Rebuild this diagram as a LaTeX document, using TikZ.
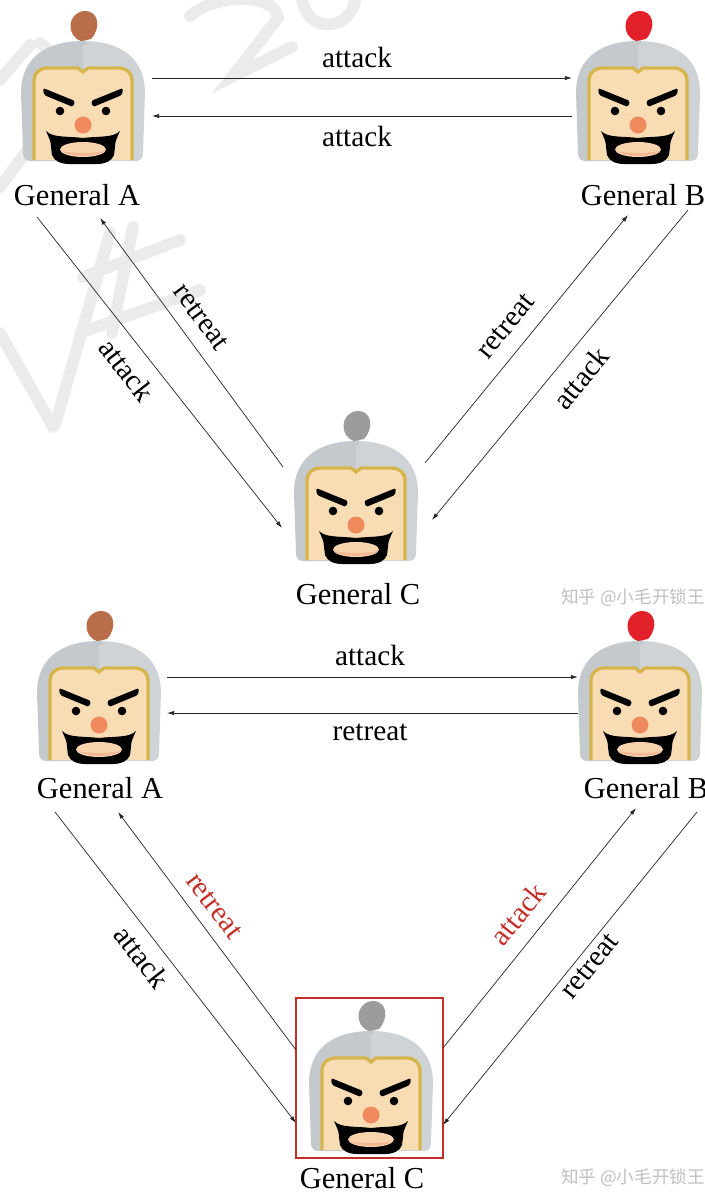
\documentclass[tikz,border=0pt]{standalone}
\usepackage{fontspec}
\setmainfont{Liberation Serif}
\newfontfamily\cjk{Noto Sans CJK SC}
\usetikzlibrary{arrows.meta}
\definecolor{helmL}{HTML}{C4C9CD}
\definecolor{helmR}{HTML}{D0D3D5}
\definecolor{skin}{HTML}{F8DDB4}
\definecolor{gold}{HTML}{D6B54C}
\definecolor{nose}{HTML}{EE8A5C}
\definecolor{mouth}{HTML}{F8D4AE}
\definecolor{lip}{HTML}{F1B896}
\definecolor{plumeA}{HTML}{B96D48}
\definecolor{plumeB}{HTML}{E1202A}
\definecolor{plumeC}{HTML}{9C9C9C}
\definecolor{redtxt}{HTML}{C42E26}
\definecolor{wm}{HTML}{EBEBEB}
\tikzset{
  % a general's head; origin at the top centre of the helmet
  pics/general/.style={code={
    \fill[helmL] (0,-2) .. controls (-36,-2) and (-62,14) .. (-62,50) -- (-60,110)
      .. controls (-60,116) and (-57,118) .. (-52,118) -- (0,118) -- cycle;
    \fill[helmR] (0,-2) .. controls (36,-2) and (62,14) .. (62,50) -- (60,110)
      .. controls (60,116) and (57,118) .. (52,118) -- (0,118) -- cycle;
    \fill[helmL] (-3,2) rectangle (3,-4);
    \fill[#1] (-2,-2) .. controls (-17,-7) and (-16,-30) .. (1,-32)
      .. controls (15,-33) and (19,-16) .. (8,-4) -- cycle;
    \fill[skin] (-49,117) -- (-49,38) .. controls (-49,29) and (-43,25) .. (-35,25)
      -- (-5,25) -- (0,29) -- (5,25) -- (35,25) .. controls (43,25) and (49,29) .. (49,38)
      -- (49,117) -- cycle;
    \draw[gold, line width=2.8pt] (-49,117) -- (-49,38) .. controls (-49,29) and (-43,25) .. (-35,25)
      -- (-5,25) -- (0,29) -- (5,25) -- (35,25) .. controls (43,25) and (49,29) .. (49,38)
      -- (49,117);
    % brows
    \fill[black, rounded corners=1.5pt] (-40,45) -- (-8,58) -- (-10,64) -- (-39,52) -- cycle;
    \fill[black, rounded corners=1.5pt] (40,45) -- (8,58) -- (10,64) -- (39,52) -- cycle;
    % eyes and nose
    \fill[black] (-23,68) circle [radius=4.3];
    \fill[black] (23,68) circle [radius=4.3];
    \fill[nose] (0,82) circle [radius=8.5];
    % moustache, beard and mouth
    \fill[black] (-37,88) .. controls (-34,95) and (-32,98) .. (-32,104) -- (-31,112)
      .. controls (-29,118) and (-22,121) .. (-14,121) -- (14,121)
      .. controls (22,121) and (29,118) .. (31,112) -- (32,104)
      .. controls (32,98) and (34,95) .. (37,88)
      .. controls (30,95) and (16,93) .. (0,95) .. controls (-16,93) and (-30,95) .. (-37,88) -- cycle;
    \fill[mouth] (0,106.5) ellipse [x radius=23, y radius=7.5];
    \fill[lip] (-22,108) .. controls (-14,114.5) and (14,114.5) .. (22,108)
      .. controls (12,110.5) and (-12,110.5) .. (-22,108) -- cycle;
  }},
  gname/.style={font=\fontsize{26}{28}\selectfont, inner sep=0pt},
  lbl/.style={font=\fontsize{25}{27}\selectfont, inner sep=0pt},
  msg/.style={draw=black!85, line width=0.6pt, -{Latex[length=6pt,width=3.6pt]}},
  wmark/.style={font=\cjk\fontsize{15}{16}\selectfont, text=black!25, inner sep=0pt, anchor=east},
}
\begin{document}
\begin{tikzpicture}[x=0.03cm, y=-0.03cm]
\useasboundingbox (0,0) rectangle (705,1193);
\fill[white] (0,0) rectangle (705,1193);

% faint background watermark strokes
\begin{scope}[wm, line width=10pt, line cap=round]
  \draw (190,16) .. controls (215,-6) and (275,-8) .. (278,18) -- (232,77) -- (292,47);
  \draw (302,-2) .. controls (305,30) and (345,35) .. (355,2);
  \draw (40,43) -- (100,90);
  \draw (0,80) -- (30,45);
  \draw (0,187) -- (50,120);
  \draw (110,233) -- (55,425);
  \draw (0,333) -- (53,427);
  \draw (83,277) -- (180,240);
  \draw (80,333) -- (200,290);
  \draw (133,227) -- (112,333);
\end{scope}

%%%% upper scenario
\pic at (83,43) {general=plumeA};
\pic at (638,43) {general=plumeB};
\pic at (356,443) {general=plumeC};
\node[gname] (uA) at (77,195) {General A};
\node[gname] (uB) at (643,195) {General B};
\node[gname] (uC) at (358,594) {General C};

\coordinate (uAB1) at (152,78);  \coordinate (uBA1) at (572,78);
\coordinate (uBA2) at (572,116); \coordinate (uAB2) at (152,116);
\coordinate (uAC1) at (37,217);  \coordinate (uCA1) at (282,528);
\coordinate (uCA2) at (283,467); \coordinate (uAC2) at (100,218);
\coordinate (uCB1) at (425,463); \coordinate (uBC1) at (628,215);
\coordinate (uBC2) at (688,210); \coordinate (uCB2) at (432,520);

\draw[msg] (uAB1) -- (uBA1);
\draw[msg] (uBA2) -- (uAB2);
\draw[msg] (uAC1) -- (uCA1);
\draw[msg] (uCA2) -- (uAC2);
\draw[msg] (uCB1) -- (uBC1);
\draw[msg] (uBC2) -- (uCB2);

\node[lbl] (ul1) at (357,57) {attack};
\node[lbl] (ul2) at (357,136) {attack};
\node[lbl, rotate=-52] (ul3) at (127,370) {attack};
\node[lbl, rotate=-53.5] (ul4) at (201,317) {retreat};
\node[lbl, rotate=50.5] (ul5) at (506,326) {retreat};
\node[lbl, rotate=50.5] (ul6) at (581,378) {attack};

\node[wmark] (wm1) at (705,598) {知乎 @小毛开锁王};

%%%% lower scenario
\pic at (99,643) {general=plumeA};
\pic at (640,643) {general=plumeB};
\pic at (371,1033) {general=plumeC};
\node[draw=redtxt, line width=0.9pt, minimum width=147*0.03cm, minimum height=160*0.03cm, inner sep=0pt] (lbox) at (369.5,1078) {};
\node[gname] (lA) at (100,788) {General A};
\node[gname] (lB) at (646,788) {General B};
\node[gname] (lC) at (362,1178) {General C};

\coordinate (lAB1) at (167,677);  \coordinate (lBA1) at (578,677);
\coordinate (lBA2) at (578,713);  \coordinate (lAB2) at (167,713);
\coordinate (lAC1) at (55,812);   \coordinate (lCA1) at (296,1123);
\coordinate (lCA2) at (296,1050); \coordinate (lAC2) at (118,812);
\coordinate (lCB1) at (443,1048); \coordinate (lBC1) at (636,808);
\coordinate (lBC2) at (697,812);  \coordinate (lCB2) at (443,1125);

\draw[msg] (lAB1) -- (lBA1);
\draw[msg] (lBA2) -- (lAB2);
\draw[msg] (lAC1) -- (lCA1);
\draw[msg] (lCA2) -- (lAC2);
\draw[msg] (lCB1) -- (lBC1);
\draw[msg] (lBC2) -- (lCB2);

\node[lbl] (ll1) at (370,655) {attack};
\node[lbl] (ll2) at (370,732) {retreat};
\node[lbl, rotate=-52] (ll3) at (142,957) {attack};
\node[lbl, rotate=-53, text=redtxt] (ll4) at (214,906) {retreat};
\node[lbl, rotate=51, text=redtxt] (ll5) at (518,914) {attack};
\node[lbl, rotate=51] (ll6) at (590,966) {retreat};

\node[wmark] (wm2) at (705,1178) {知乎 @小毛开锁王};
\end{tikzpicture}
\end{document}
